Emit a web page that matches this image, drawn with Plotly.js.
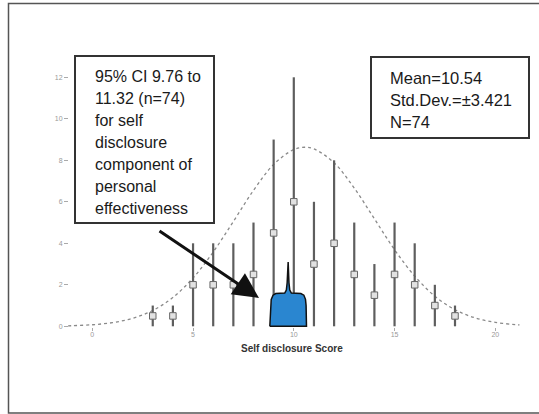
<!DOCTYPE html>
<html>
<head>
<meta charset="utf-8">
<script src="https://cdn.plot.ly/plotly-3.0.1.min.js"></script>
<style>
html,body{margin:0;padding:0;background:#fff;}
#chart{width:539px;height:414px;}
</style>
</head>
<body>
<div id="chart"></div>
<script>
// ---- data ----
const scores = [3, 4, 5, 6, 7, 8, 9, 10, 11, 12, 13, 14, 15, 16, 17, 18];
const frequencies = [1, 1, 4, 4, 4, 5, 9, 12, 6, 8, 5, 3, 5, 4, 2, 1];

const curveX = [-1.2, -1, 0, 1, 2, 3, 4, 5, 6, 7, 8, 9, 10, 10.54, 11, 12, 13, 14, 15, 16, 17, 18, 19, 20, 21, 21.2];
const curveY = [0.024, 0.029, 0.075, 0.177, 0.383, 0.761, 1.39, 2.33, 3.58, 5.05, 6.55, 7.80, 8.52, 8.63, 8.55, 7.88, 6.66, 5.18, 3.69, 2.42, 1.45, 0.80, 0.406, 0.189, 0.081, 0.067];

const ciShapeX = [8.81, 8.84, 8.88, 8.97, 9.1, 9.55, 9.63, 9.67, 9.72, 9.76, 9.80, 9.88, 10.35, 10.5, 10.58, 10.61, 10.63, 8.81];
const ciShapeY = [0, 1.0, 1.3, 1.5, 1.58, 1.6, 1.75, 2.1, 3.1, 2.1, 1.75, 1.6, 1.58, 1.5, 1.3, 1.0, 0, 0];

const xTicks = [0, 5, 10, 15, 20];
const yTicks = [0, 2, 4, 6, 8, 10, 12];

const ciText = ["95% CI 9.76 to", "11.32 (n=74)", "for self", "disclosure", "component of", "personal", "effectiveness"];
const statsText = ["Mean=10.54", "Std.Dev.=\u00b13.421", "N=74"];
const xTitle = "Self disclosure Score";

// ---- layout geometry ----
const W = 539, H = 414;
const mL = 40, mR = 14, mT = 30, mB = 87;
const plotW = W - mL - mR, plotH = H - mT - mB;
const px = v => (v - mL) / plotW;
const py = v => (H - mB - v) / plotH;

const half = frequencies.map(f => f / 2);

const traces = [
  {
    x: curveX, y: curveY, type: 'scatter', mode: 'lines',
    line: {color: '#8a8a8a', width: 1.3, dash: 'dot', shape: 'spline'},
    hoverinfo: 'skip'
  },
  {
    x: scores, y: half, type: 'scatter', mode: 'markers',
    error_y: {type: 'data', array: half, symmetric: true, visible: true, color: '#5e5e5e', thickness: 2.2, width: 0},
    marker: {symbol: 'square', size: 6.5, color: '#e2e2e2', line: {color: '#666', width: 1}},
    hoverinfo: 'skip'
  },
  {
    x: ciShapeX, y: ciShapeY, type: 'scatter', mode: 'lines',
    fill: 'toself', fillcolor: 'rgb(42,134,208)',
    line: {color: '#111', width: 1.5},
    hoverinfo: 'skip'
  }
];

const annotations = [];
ciText.forEach((t, i) => {
  annotations.push({
    xref: 'paper', yref: 'paper', x: px(93), y: py(76.7 + i * 21.9),
    xanchor: 'left', yanchor: 'middle', showarrow: false, text: t,
    font: {family: 'Liberation Sans, Arial, sans-serif', size: 16, color: '#1a1a1a'}
  });
});
statsText.forEach((t, i) => {
  annotations.push({
    xref: 'paper', yref: 'paper', x: px(388), y: py(78 + i * 21.9),
    xanchor: 'left', yanchor: 'middle', showarrow: false, text: t,
    font: {family: 'Liberation Sans, Arial, sans-serif', size: 16.5, color: '#1a1a1a'}
  });
});
annotations.push({
  xref: 'paper', yref: 'paper', x: px(292), y: py(348),
  xanchor: 'center', yanchor: 'middle', showarrow: false, text: '<b>' + xTitle + '</b>',
  font: {family: 'Liberation Sans, Arial, sans-serif', size: 10, color: '#333'}
});
annotations.push({
  xref: 'paper', yref: 'paper', x: px(259), y: py(298), text: '',
  showarrow: true, axref: 'pixel', ayref: 'pixel', ax: -101, ay: -68,
  arrowhead: 2, arrowsize: 1.7, arrowwidth: 3, arrowcolor: '#111', standoff: 0
});

const shapes = [
  {type: 'rect', xref: 'paper', yref: 'paper', x0: px(8.5), x1: px(560), y0: py(3.5), y1: py(413),
   line: {color: '#555', width: 1.5}, fillcolor: 'rgba(0,0,0,0)'},
  {type: 'rect', xref: 'paper', yref: 'paper', x0: px(75), x1: px(214), y0: py(56), y1: py(223),
   line: {color: '#333', width: 2}, fillcolor: '#fff', layer: 'above'},
  {type: 'rect', xref: 'paper', yref: 'paper', x0: px(371), x1: px(529), y0: py(57), y1: py(138),
   line: {color: '#333', width: 2}, fillcolor: '#fff', layer: 'above'}
];

const layout = {
  width: W, height: H,
  margin: {l: mL, r: mR, t: mT, b: mB, pad: 0},
  paper_bgcolor: '#fff', plot_bgcolor: '#fff',
  showlegend: false,
  xaxis: {
    range: [(mL - 92.3) / 20.15, (W - mR - 92.3) / 20.15],
    tickvals: xTicks, ticktext: xTicks.map(String),
    ticks: 'outside', ticklen: 3, tickcolor: '#aaa', tickwidth: 1,
    ticklabelstandoff: -2,
    tickfont: {family: 'Liberation Sans, Arial, sans-serif', size: 7, color: '#999'},
    showgrid: false, zeroline: false, showline: false
  },
  yaxis: {
    range: [(326.3 - (H - mB)) / 20.75, (326.3 - mT) / 20.75],
    anchor: 'free', position: px(68),
    tickvals: yTicks, ticktext: yTicks.map(String),
    ticks: 'outside', ticklen: 4, tickcolor: '#aaa', tickwidth: 1,
    tickfont: {family: 'Liberation Sans, Arial, sans-serif', size: 7, color: '#999'},
    showgrid: false, zeroline: false, showline: false
  },
  shapes: shapes,
  annotations: annotations
};

Plotly.newPlot('chart', traces, layout, {displayModeBar: false, staticPlot: true});
</script>
</body>
</html>
